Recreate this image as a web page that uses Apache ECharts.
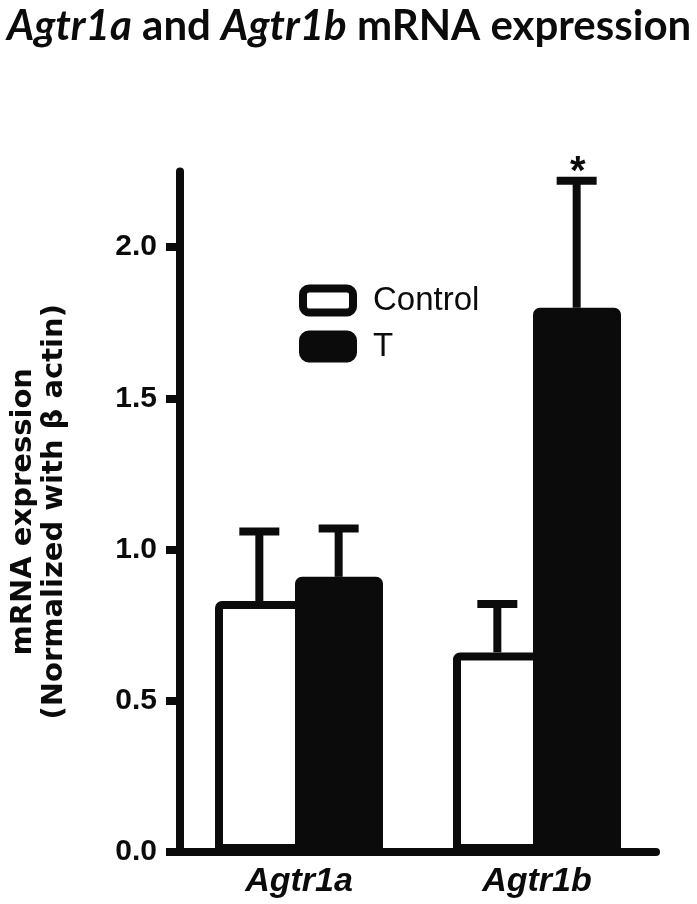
<!DOCTYPE html>
<html>
<head>
<meta charset="utf-8">
<script src="https://cdn.jsdelivr.net/npm/echarts@6/dist/echarts.min.js"></script>
<style>html,body{margin:0;padding:0;background:#fff}#c{width:697px;height:904px}</style>
</head>
<body>
<div id="c"></div>
<script>
const categories = ['Agtr1a', 'Agtr1b'];
const seriesNames = ['Control', 'T'];
const controlMean = [0.83, 0.66];
const controlSem = [0.23, 0.16];
const tMean = [0.91, 1.80];
const tSem = [0.16, 0.42];
const tSignificance = ['', '*'];
const yTickValues = [0, 0.5, 1.0, 1.5, 2.0];

const INK = '#0b0b0c';
const chart = echarts.init(document.getElementById('c'));

const errData = [];
categories.forEach((c, i) => {
  errData.push([i, controlMean[i], controlMean[i] + controlSem[i], -1, '']);
  errData.push([i, tMean[i], tMean[i] + tSem[i], 1, tSignificance[i]]);
});

chart.setOption({
  animation: false,
  title: {
    text: '{i|Agtr1a}{b| and }{i|Agtr1b}{b| mRNA expression}',
    left: 2, top: 0,
    textStyle: {
      rich: {
        i: { fontFamily: 'Lato', fontWeight: 'bold', fontStyle: 'italic', fontSize: 42, color: INK },
        b: { fontFamily: 'Lato', fontWeight: 'bold', fontSize: 42, color: INK }
      }
    }
  },
  legend: {
    orient: 'vertical', left: 294, top: 279,
    itemWidth: 50, itemHeight: 24, itemGap: 13,
    icon: 'roundRect',
    textStyle: { fontFamily: 'Liberation Sans', fontSize: 33, color: INK, padding: [0, 0, 0, 15] },
    data: [
      { name: 'Control', itemStyle: { color: '#fff', borderColor: INK, borderWidth: 8 } },
      { name: 'T', itemStyle: { color: INK, borderColor: INK, borderWidth: 8 } }
    ]
  },
  grid: { left: 176, right: 41, top: 171.6, bottom: 52 },
  xAxis: {
    type: 'category', data: categories,
    axisLine: { lineStyle: { color: INK, width: 8 } },
    axisTick: { alignWithLabel: true, length: 12, lineStyle: { color: INK, width: 8 } },
    axisLabel: { margin: 13, fontFamily: 'Liberation Sans', fontWeight: 'bold', fontStyle: 'italic', fontSize: 34, color: INK }
  },
  yAxis: {
    type: 'value', min: 0, max: 2.25, interval: 0.5,
    name: 'mRNA expression\n(Normalized with \u03b2 actin)',
    nameLocation: 'middle', nameGap: 110, nameRotate: 90,
    nameTextStyle: { fontFamily: 'DejaVu Sans', fontWeight: 'bold', fontSize: 29, lineHeight: 31, color: INK },
    splitLine: { show: false },
    axisLine: { show: true, lineStyle: { color: INK, width: 8 } },
    axisTick: { show: true, length: 14, customValues: yTickValues, lineStyle: { color: INK, width: 8 } },
    axisLabel: { margin: 23, customValues: yTickValues, fontFamily: 'Liberation Sans', fontWeight: 'bold', fontSize: 30, color: INK,
      formatter: v => v.toFixed(1) }
  },
  series: [
    {
      name: seriesNames[0], type: 'bar', data: controlMean,
      barWidth: 88, barGap: '-9.09%',
      itemStyle: { color: '#fff', borderColor: INK, borderWidth: 8, borderRadius: [3, 3, 0, 0] },
      z: 2
    },
    {
      name: seriesNames[1], type: 'bar', data: tMean,
      barWidth: 88,
      itemStyle: { color: INK, borderColor: INK, borderWidth: 8, borderRadius: [3, 3, 0, 0] },
      z: 3
    },
    {
      type: 'custom', data: errData, z: 1,
      encode: { x: 0, y: [1, 2] },
      renderItem: function (params, api) {
        const band = api.size([1, 0])[0];
        const dir = api.value(3);
        const base = api.coord([api.value(0), api.value(1)]);
        const top = api.coord([api.value(0), api.value(2)]);
        const x = base[0] + dir * band / 6;
        const capHalf = 20;
        const children = [
          { type: 'line', shape: { x1: x, y1: base[1], x2: x, y2: top[1] }, style: { stroke: INK, lineWidth: 8 } },
          { type: 'line', shape: { x1: x - capHalf, y1: top[1], x2: x + capHalf, y2: top[1] }, style: { stroke: INK, lineWidth: 8 } }
        ];
        const sig = api.value(4);
        if (sig) {
          children.push({ type: 'text', style: { text: sig, x: x + 1, y: top[1] + 12, align: 'center', verticalAlign: 'bottom',
            font: 'bold 40px "Liberation Sans"', fill: INK } });
        }
        return { type: 'group', children: children };
      }
    }
  ]
});
</script>
</body>
</html>
